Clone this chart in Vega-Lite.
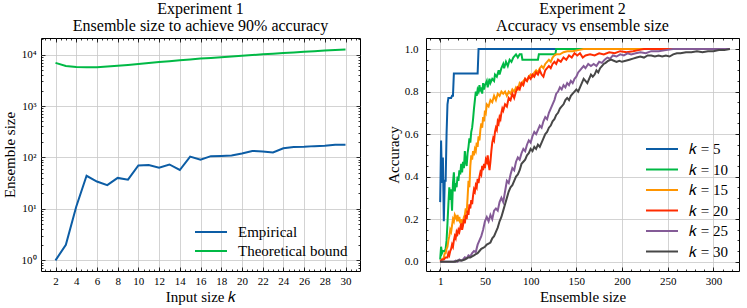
{
"$schema":"https://vega.github.io/schema/vega-lite/v6.json",
"background":"white",
"padding":{"left":1,"top":0,"right":2,"bottom":1},
"spacing":24,
"resolve":{"scale":{"color":"independent"},"legend":{"color":"independent"}},
"config":{
 "font":"Liberation Serif",
 "view":{"stroke":"black","strokeWidth":1},
 "axis":{"domain":false,"tickColor":"black","tickWidth":0.8,"labelFont":"Liberation Serif","labelFontSize":11,"labelColor":"black","titleFont":"Liberation Serif","titleFontSize":15,"titleFontWeight":"normal","titleColor":"black","gridColor":"#c8c8c8","gridWidth":0.8,"labelFlush":false,"labelOverlap":false},
 "legend":{"symbolType":"M-1,0L2.2,0","symbolSize":400,"symbolStrokeWidth":2,"labelFont":"Liberation Serif","labelFontSize":15,"labelColor":"black","labelOffset":22,"rowPadding":0,"padding":0,"title":null},
 "title":{"font":"Liberation Serif","fontSize":16,"fontWeight":"normal","color":"black","lineHeight":17,"offset":4}
},
"datasets":{
"exp1":[
{"k":2,"size":1,"series":"Empirical"},{"k":3,"size":2,"series":"Empirical"},{"k":4,"size":11,"series":"Empirical"},{"k":5,"size":44,"series":"Empirical"},{"k":6,"size":34,"series":"Empirical"},{"k":7,"size":29,"series":"Empirical"},{"k":8,"size":40,"series":"Empirical"},{"k":9,"size":37,"series":"Empirical"},{"k":10,"size":70,"series":"Empirical"},{"k":11,"size":71,"series":"Empirical"},{"k":12,"size":63,"series":"Empirical"},{"k":13,"size":73,"series":"Empirical"},{"k":14,"size":57,"series":"Empirical"},{"k":15,"size":104,"series":"Empirical"},{"k":16,"size":90,"series":"Empirical"},{"k":17,"size":106,"series":"Empirical"},{"k":18,"size":107,"series":"Empirical"},{"k":19,"size":109,"series":"Empirical"},{"k":20,"size":119,"series":"Empirical"},{"k":21,"size":134,"series":"Empirical"},{"k":22,"size":131,"series":"Empirical"},{"k":23,"size":125,"series":"Empirical"},{"k":24,"size":151,"series":"Empirical"},{"k":25,"size":160,"series":"Empirical"},{"k":26,"size":161,"series":"Empirical"},{"k":27,"size":166,"series":"Empirical"},{"k":28,"size":169,"series":"Empirical"},{"k":29,"size":176,"series":"Empirical"},{"k":30,"size":177,"series":"Empirical"},
{"k":2,"size":6890,"series":"Theoretical bound"},{"k":3,"size":6000,"series":"Theoretical bound"},{"k":4,"size":5750,"series":"Theoretical bound"},{"k":5,"size":5680,"series":"Theoretical bound"},{"k":6,"size":5700,"series":"Theoretical bound"},{"k":7,"size":5850,"series":"Theoretical bound"},{"k":8,"size":6050,"series":"Theoretical bound"},{"k":9,"size":6300,"series":"Theoretical bound"},{"k":10,"size":6550,"series":"Theoretical bound"},{"k":11,"size":6850,"series":"Theoretical bound"},{"k":12,"size":7150,"series":"Theoretical bound"},{"k":13,"size":7450,"series":"Theoretical bound"},{"k":14,"size":7750,"series":"Theoretical bound"},{"k":15,"size":8050,"series":"Theoretical bound"},{"k":16,"size":8350,"series":"Theoretical bound"},{"k":17,"size":8600,"series":"Theoretical bound"},{"k":18,"size":8900,"series":"Theoretical bound"},{"k":19,"size":9200,"series":"Theoretical bound"},{"k":20,"size":9500,"series":"Theoretical bound"},{"k":21,"size":9800,"series":"Theoretical bound"},{"k":22,"size":10100,"series":"Theoretical bound"},{"k":23,"size":10400,"series":"Theoretical bound"},{"k":24,"size":10700,"series":"Theoretical bound"},{"k":25,"size":11000,"series":"Theoretical bound"},{"k":26,"size":11350,"series":"Theoretical bound"},{"k":27,"size":11650,"series":"Theoretical bound"},{"k":28,"size":11950,"series":"Theoretical bound"},{"k":29,"size":12250,"series":"Theoretical bound"},{"k":30,"size":12600,"series":"Theoretical bound"}
],
"exp2":[
{"n":1,"acc":0.28,"s":"𝑘 = 5"},{"n":2,"acc":0.57,"s":"𝑘 = 5"},{"n":3,"acc":0.37,"s":"𝑘 = 5"},{"n":4,"acc":0.49,"s":"𝑘 = 5"},{"n":5,"acc":0.19,"s":"𝑘 = 5"},{"n":6,"acc":0.38,"s":"𝑘 = 5"},{"n":7,"acc":0.38,"s":"𝑘 = 5"},{"n":8,"acc":0.6,"s":"𝑘 = 5"},{"n":9,"acc":0.74,"s":"𝑘 = 5"},{"n":10,"acc":0.77,"s":"𝑘 = 5"},{"n":13,"acc":0.77,"s":"𝑘 = 5"},{"n":14,"acc":0.78,"s":"𝑘 = 5"},{"n":15,"acc":0.78,"s":"𝑘 = 5"},{"n":16,"acc":0.885,"s":"𝑘 = 5"},{"n":42,"acc":0.885,"s":"𝑘 = 5"},{"n":43,"acc":1.0,"s":"𝑘 = 5"},{"n":318,"acc":1.0,"s":"𝑘 = 5"},
{"n":1,"acc":0.01,"s":"𝑘 = 10"},{"n":2,"acc":0.07,"s":"𝑘 = 10"},{"n":3,"acc":0.04,"s":"𝑘 = 10"},{"n":4,"acc":0.05,"s":"𝑘 = 10"},{"n":6,"acc":0.05,"s":"𝑘 = 10"},{"n":7,"acc":0.06,"s":"𝑘 = 10"},{"n":8,"acc":0.1,"s":"𝑘 = 10"},{"n":9,"acc":0.18,"s":"𝑘 = 10"},{"n":10,"acc":0.27,"s":"𝑘 = 10"},{"n":11,"acc":0.35,"s":"𝑘 = 10"},{"n":12,"acc":0.29,"s":"𝑘 = 10"},{"n":13,"acc":0.34,"s":"𝑘 = 10"},{"n":14,"acc":0.24,"s":"𝑘 = 10"},{"n":15,"acc":0.37,"s":"𝑘 = 10"},{"n":16,"acc":0.42,"s":"𝑘 = 10"},{"n":17,"acc":0.33,"s":"𝑘 = 10"},{"n":18,"acc":0.37,"s":"𝑘 = 10"},{"n":19,"acc":0.35,"s":"𝑘 = 10"},{"n":20,"acc":0.4,"s":"𝑘 = 10"},{"n":21,"acc":0.38,"s":"𝑘 = 10"},{"n":22,"acc":0.43,"s":"𝑘 = 10"},{"n":23,"acc":0.41,"s":"𝑘 = 10"},{"n":24,"acc":0.46,"s":"𝑘 = 10"},{"n":25,"acc":0.42,"s":"𝑘 = 10"},{"n":26,"acc":0.47,"s":"𝑘 = 10"},{"n":27,"acc":0.44,"s":"𝑘 = 10"},{"n":28,"acc":0.52,"s":"𝑘 = 10"},{"n":29,"acc":0.47,"s":"𝑘 = 10"},{"n":30,"acc":0.45,"s":"𝑘 = 10"},{"n":31,"acc":0.51,"s":"𝑘 = 10"},{"n":32,"acc":0.54,"s":"𝑘 = 10"},{"n":33,"acc":0.58,"s":"𝑘 = 10"},{"n":34,"acc":0.56,"s":"𝑘 = 10"},{"n":35,"acc":0.61,"s":"𝑘 = 10"},{"n":36,"acc":0.63,"s":"𝑘 = 10"},{"n":37,"acc":0.67,"s":"𝑘 = 10"},{"n":38,"acc":0.72,"s":"𝑘 = 10"},{"n":39,"acc":0.76,"s":"𝑘 = 10"},{"n":40,"acc":0.8,"s":"𝑘 = 10"},{"n":41,"acc":0.78,"s":"𝑘 = 10"},{"n":42,"acc":0.81,"s":"𝑘 = 10"},{"n":43,"acc":0.8,"s":"𝑘 = 10"},{"n":44,"acc":0.83,"s":"𝑘 = 10"},{"n":45,"acc":0.8,"s":"𝑘 = 10"},{"n":46,"acc":0.82,"s":"𝑘 = 10"},{"n":47,"acc":0.79,"s":"𝑘 = 10"},{"n":48,"acc":0.84,"s":"𝑘 = 10"},{"n":49,"acc":0.81,"s":"𝑘 = 10"},{"n":50,"acc":0.83,"s":"𝑘 = 10"},{"n":52,"acc":0.85,"s":"𝑘 = 10"},{"n":53,"acc":0.82,"s":"𝑘 = 10"},{"n":55,"acc":0.86,"s":"𝑘 = 10"},{"n":56,"acc":0.84,"s":"𝑘 = 10"},{"n":58,"acc":0.86,"s":"𝑘 = 10"},{"n":60,"acc":0.85,"s":"𝑘 = 10"},{"n":61,"acc":0.88,"s":"𝑘 = 10"},{"n":63,"acc":0.87,"s":"𝑘 = 10"},{"n":65,"acc":0.9,"s":"𝑘 = 10"},{"n":66,"acc":0.88,"s":"𝑘 = 10"},{"n":68,"acc":0.91,"s":"𝑘 = 10"},{"n":70,"acc":0.93,"s":"𝑘 = 10"},{"n":71,"acc":0.91,"s":"𝑘 = 10"},{"n":73,"acc":0.94,"s":"𝑘 = 10"},{"n":75,"acc":0.92,"s":"𝑘 = 10"},{"n":77,"acc":0.95,"s":"𝑘 = 10"},{"n":79,"acc":0.94,"s":"𝑘 = 10"},{"n":81,"acc":0.96,"s":"𝑘 = 10"},{"n":83,"acc":0.97,"s":"𝑘 = 10"},{"n":84,"acc":0.975,"s":"𝑘 = 10"},{"n":86,"acc":0.96,"s":"𝑘 = 10"},{"n":88,"acc":0.975,"s":"𝑘 = 10"},{"n":90,"acc":0.975,"s":"𝑘 = 10"},{"n":91,"acc":0.95,"s":"𝑘 = 10"},{"n":108,"acc":0.95,"s":"𝑘 = 10"},{"n":109,"acc":0.975,"s":"𝑘 = 10"},{"n":127,"acc":0.975,"s":"𝑘 = 10"},{"n":128,"acc":1.0,"s":"𝑘 = 10"},{"n":318,"acc":1.0,"s":"𝑘 = 10"},
{"n":1,"acc":0.0,"s":"𝑘 = 15"},{"n":2,"acc":0.0,"s":"𝑘 = 15"},{"n":3,"acc":0.01,"s":"𝑘 = 15"},{"n":4,"acc":0.01,"s":"𝑘 = 15"},{"n":5,"acc":0.02,"s":"𝑘 = 15"},{"n":6,"acc":0.04,"s":"𝑘 = 15"},{"n":7,"acc":0.04,"s":"𝑘 = 15"},{"n":8,"acc":0.06,"s":"𝑘 = 15"},{"n":9,"acc":0.07,"s":"𝑘 = 15"},{"n":10,"acc":0.1,"s":"𝑘 = 15"},{"n":11,"acc":0.12,"s":"𝑘 = 15"},{"n":12,"acc":0.15,"s":"𝑘 = 15"},{"n":13,"acc":0.14,"s":"𝑘 = 15"},{"n":14,"acc":0.17,"s":"𝑘 = 15"},{"n":15,"acc":0.2,"s":"𝑘 = 15"},{"n":16,"acc":0.19,"s":"𝑘 = 15"},{"n":17,"acc":0.22,"s":"𝑘 = 15"},{"n":18,"acc":0.21,"s":"𝑘 = 15"},{"n":19,"acc":0.2,"s":"𝑘 = 15"},{"n":20,"acc":0.22,"s":"𝑘 = 15"},{"n":21,"acc":0.19,"s":"𝑘 = 15"},{"n":22,"acc":0.21,"s":"𝑘 = 15"},{"n":23,"acc":0.18,"s":"𝑘 = 15"},{"n":24,"acc":0.2,"s":"𝑘 = 15"},{"n":25,"acc":0.17,"s":"𝑘 = 15"},{"n":26,"acc":0.19,"s":"𝑘 = 15"},{"n":27,"acc":0.21,"s":"𝑘 = 15"},{"n":28,"acc":0.22,"s":"𝑘 = 15"},{"n":29,"acc":0.25,"s":"𝑘 = 15"},{"n":30,"acc":0.23,"s":"𝑘 = 15"},{"n":31,"acc":0.3,"s":"𝑘 = 15"},{"n":32,"acc":0.38,"s":"𝑘 = 15"},{"n":33,"acc":0.35,"s":"𝑘 = 15"},{"n":34,"acc":0.45,"s":"𝑘 = 15"},{"n":35,"acc":0.5,"s":"𝑘 = 15"},{"n":36,"acc":0.48,"s":"𝑘 = 15"},{"n":37,"acc":0.52,"s":"𝑘 = 15"},{"n":38,"acc":0.5,"s":"𝑘 = 15"},{"n":39,"acc":0.53,"s":"𝑘 = 15"},{"n":40,"acc":0.52,"s":"𝑘 = 15"},{"n":41,"acc":0.56,"s":"𝑘 = 15"},{"n":42,"acc":0.54,"s":"𝑘 = 15"},{"n":43,"acc":0.59,"s":"𝑘 = 15"},{"n":44,"acc":0.57,"s":"𝑘 = 15"},{"n":45,"acc":0.62,"s":"𝑘 = 15"},{"n":46,"acc":0.65,"s":"𝑘 = 15"},{"n":47,"acc":0.63,"s":"𝑘 = 15"},{"n":48,"acc":0.68,"s":"𝑘 = 15"},{"n":49,"acc":0.66,"s":"𝑘 = 15"},{"n":50,"acc":0.71,"s":"𝑘 = 15"},{"n":51,"acc":0.7,"s":"𝑘 = 15"},{"n":52,"acc":0.74,"s":"𝑘 = 15"},{"n":54,"acc":0.73,"s":"𝑘 = 15"},{"n":56,"acc":0.76,"s":"𝑘 = 15"},{"n":58,"acc":0.75,"s":"𝑘 = 15"},{"n":60,"acc":0.78,"s":"𝑘 = 15"},{"n":62,"acc":0.76,"s":"𝑘 = 15"},{"n":64,"acc":0.79,"s":"𝑘 = 15"},{"n":66,"acc":0.78,"s":"𝑘 = 15"},{"n":68,"acc":0.8,"s":"𝑘 = 15"},{"n":70,"acc":0.79,"s":"𝑘 = 15"},{"n":72,"acc":0.8,"s":"𝑘 = 15"},{"n":74,"acc":0.78,"s":"𝑘 = 15"},{"n":76,"acc":0.8,"s":"𝑘 = 15"},{"n":78,"acc":0.79,"s":"𝑘 = 15"},{"n":80,"acc":0.81,"s":"𝑘 = 15"},{"n":82,"acc":0.8,"s":"𝑘 = 15"},{"n":84,"acc":0.82,"s":"𝑘 = 15"},{"n":86,"acc":0.81,"s":"𝑘 = 15"},{"n":88,"acc":0.84,"s":"𝑘 = 15"},{"n":90,"acc":0.83,"s":"𝑘 = 15"},{"n":92,"acc":0.85,"s":"𝑘 = 15"},{"n":94,"acc":0.86,"s":"𝑘 = 15"},{"n":96,"acc":0.85,"s":"𝑘 = 15"},{"n":98,"acc":0.87,"s":"𝑘 = 15"},{"n":100,"acc":0.88,"s":"𝑘 = 15"},{"n":102,"acc":0.87,"s":"𝑘 = 15"},{"n":104,"acc":0.89,"s":"𝑘 = 15"},{"n":106,"acc":0.9,"s":"𝑘 = 15"},{"n":108,"acc":0.89,"s":"𝑘 = 15"},{"n":110,"acc":0.91,"s":"𝑘 = 15"},{"n":112,"acc":0.92,"s":"𝑘 = 15"},{"n":114,"acc":0.91,"s":"𝑘 = 15"},{"n":116,"acc":0.93,"s":"𝑘 = 15"},{"n":118,"acc":0.94,"s":"𝑘 = 15"},{"n":120,"acc":0.95,"s":"𝑘 = 15"},{"n":122,"acc":0.94,"s":"𝑘 = 15"},{"n":124,"acc":0.96,"s":"𝑘 = 15"},{"n":126,"acc":0.97,"s":"𝑘 = 15"},{"n":128,"acc":0.975,"s":"𝑘 = 15"},{"n":132,"acc":0.975,"s":"𝑘 = 15"},{"n":136,"acc":0.985,"s":"𝑘 = 15"},{"n":140,"acc":0.99,"s":"𝑘 = 15"},{"n":146,"acc":0.99,"s":"𝑘 = 15"},{"n":152,"acc":0.995,"s":"𝑘 = 15"},{"n":158,"acc":1.0,"s":"𝑘 = 15"},{"n":318,"acc":1.0,"s":"𝑘 = 15"},
{"n":1,"acc":0.0,"s":"𝑘 = 20"},{"n":3,"acc":0.01,"s":"𝑘 = 20"},{"n":5,"acc":0.01,"s":"𝑘 = 20"},{"n":7,"acc":0.02,"s":"𝑘 = 20"},{"n":9,"acc":0.02,"s":"𝑘 = 20"},{"n":10,"acc":0.04,"s":"𝑘 = 20"},{"n":11,"acc":0.03,"s":"𝑘 = 20"},{"n":12,"acc":0.05,"s":"𝑘 = 20"},{"n":13,"acc":0.06,"s":"𝑘 = 20"},{"n":14,"acc":0.08,"s":"𝑘 = 20"},{"n":15,"acc":0.07,"s":"𝑘 = 20"},{"n":16,"acc":0.1,"s":"𝑘 = 20"},{"n":17,"acc":0.12,"s":"𝑘 = 20"},{"n":18,"acc":0.11,"s":"𝑘 = 20"},{"n":19,"acc":0.14,"s":"𝑘 = 20"},{"n":20,"acc":0.13,"s":"𝑘 = 20"},{"n":21,"acc":0.15,"s":"𝑘 = 20"},{"n":22,"acc":0.14,"s":"𝑘 = 20"},{"n":23,"acc":0.16,"s":"𝑘 = 20"},{"n":24,"acc":0.18,"s":"𝑘 = 20"},{"n":25,"acc":0.15,"s":"𝑘 = 20"},{"n":26,"acc":0.17,"s":"𝑘 = 20"},{"n":27,"acc":0.2,"s":"𝑘 = 20"},{"n":28,"acc":0.18,"s":"𝑘 = 20"},{"n":29,"acc":0.22,"s":"𝑘 = 20"},{"n":30,"acc":0.2,"s":"𝑘 = 20"},{"n":31,"acc":0.24,"s":"𝑘 = 20"},{"n":32,"acc":0.22,"s":"𝑘 = 20"},{"n":33,"acc":0.27,"s":"𝑘 = 20"},{"n":34,"acc":0.25,"s":"𝑘 = 20"},{"n":35,"acc":0.29,"s":"𝑘 = 20"},{"n":36,"acc":0.27,"s":"𝑘 = 20"},{"n":37,"acc":0.31,"s":"𝑘 = 20"},{"n":38,"acc":0.34,"s":"𝑘 = 20"},{"n":39,"acc":0.33,"s":"𝑘 = 20"},{"n":40,"acc":0.36,"s":"𝑘 = 20"},{"n":41,"acc":0.35,"s":"𝑘 = 20"},{"n":42,"acc":0.39,"s":"𝑘 = 20"},{"n":43,"acc":0.37,"s":"𝑘 = 20"},{"n":44,"acc":0.4,"s":"𝑘 = 20"},{"n":45,"acc":0.42,"s":"𝑘 = 20"},{"n":46,"acc":0.41,"s":"𝑘 = 20"},{"n":47,"acc":0.45,"s":"𝑘 = 20"},{"n":48,"acc":0.43,"s":"𝑘 = 20"},{"n":49,"acc":0.46,"s":"𝑘 = 20"},{"n":50,"acc":0.44,"s":"𝑘 = 20"},{"n":51,"acc":0.48,"s":"𝑘 = 20"},{"n":52,"acc":0.47,"s":"𝑘 = 20"},{"n":53,"acc":0.5,"s":"𝑘 = 20"},{"n":54,"acc":0.46,"s":"𝑘 = 20"},{"n":55,"acc":0.43,"s":"𝑘 = 20"},{"n":56,"acc":0.47,"s":"𝑘 = 20"},{"n":57,"acc":0.52,"s":"𝑘 = 20"},{"n":58,"acc":0.56,"s":"𝑘 = 20"},{"n":59,"acc":0.58,"s":"𝑘 = 20"},{"n":60,"acc":0.57,"s":"𝑘 = 20"},{"n":61,"acc":0.61,"s":"𝑘 = 20"},{"n":62,"acc":0.63,"s":"𝑘 = 20"},{"n":63,"acc":0.62,"s":"𝑘 = 20"},{"n":64,"acc":0.66,"s":"𝑘 = 20"},{"n":65,"acc":0.65,"s":"𝑘 = 20"},{"n":66,"acc":0.68,"s":"𝑘 = 20"},{"n":67,"acc":0.67,"s":"𝑘 = 20"},{"n":68,"acc":0.7,"s":"𝑘 = 20"},{"n":69,"acc":0.72,"s":"𝑘 = 20"},{"n":70,"acc":0.71,"s":"𝑘 = 20"},{"n":72,"acc":0.74,"s":"𝑘 = 20"},{"n":74,"acc":0.73,"s":"𝑘 = 20"},{"n":76,"acc":0.77,"s":"𝑘 = 20"},{"n":78,"acc":0.76,"s":"𝑘 = 20"},{"n":80,"acc":0.79,"s":"𝑘 = 20"},{"n":82,"acc":0.77,"s":"𝑘 = 20"},{"n":84,"acc":0.8,"s":"𝑘 = 20"},{"n":86,"acc":0.82,"s":"𝑘 = 20"},{"n":88,"acc":0.81,"s":"𝑘 = 20"},{"n":90,"acc":0.84,"s":"𝑘 = 20"},{"n":92,"acc":0.83,"s":"𝑘 = 20"},{"n":94,"acc":0.86,"s":"𝑘 = 20"},{"n":96,"acc":0.85,"s":"𝑘 = 20"},{"n":98,"acc":0.87,"s":"𝑘 = 20"},{"n":100,"acc":0.86,"s":"𝑘 = 20"},{"n":102,"acc":0.88,"s":"𝑘 = 20"},{"n":104,"acc":0.87,"s":"𝑘 = 20"},{"n":106,"acc":0.89,"s":"𝑘 = 20"},{"n":108,"acc":0.88,"s":"𝑘 = 20"},{"n":110,"acc":0.9,"s":"𝑘 = 20"},{"n":112,"acc":0.88,"s":"𝑘 = 20"},{"n":114,"acc":0.87,"s":"𝑘 = 20"},{"n":116,"acc":0.9,"s":"𝑘 = 20"},{"n":118,"acc":0.91,"s":"𝑘 = 20"},{"n":120,"acc":0.92,"s":"𝑘 = 20"},{"n":122,"acc":0.91,"s":"𝑘 = 20"},{"n":124,"acc":0.93,"s":"𝑘 = 20"},{"n":126,"acc":0.94,"s":"𝑘 = 20"},{"n":128,"acc":0.93,"s":"𝑘 = 20"},{"n":130,"acc":0.95,"s":"𝑘 = 20"},{"n":133,"acc":0.94,"s":"𝑘 = 20"},{"n":136,"acc":0.96,"s":"𝑘 = 20"},{"n":139,"acc":0.95,"s":"𝑘 = 20"},{"n":142,"acc":0.97,"s":"𝑘 = 20"},{"n":145,"acc":0.96,"s":"𝑘 = 20"},{"n":148,"acc":0.98,"s":"𝑘 = 20"},{"n":151,"acc":0.97,"s":"𝑘 = 20"},{"n":154,"acc":0.98,"s":"𝑘 = 20"},{"n":157,"acc":0.96,"s":"𝑘 = 20"},{"n":160,"acc":0.97,"s":"𝑘 = 20"},{"n":165,"acc":0.975,"s":"𝑘 = 20"},{"n":170,"acc":0.97,"s":"𝑘 = 20"},{"n":175,"acc":0.98,"s":"𝑘 = 20"},{"n":180,"acc":0.975,"s":"𝑘 = 20"},{"n":186,"acc":0.985,"s":"𝑘 = 20"},{"n":192,"acc":0.98,"s":"𝑘 = 20"},{"n":198,"acc":0.99,"s":"𝑘 = 20"},{"n":205,"acc":0.985,"s":"𝑘 = 20"},{"n":212,"acc":0.99,"s":"𝑘 = 20"},{"n":218,"acc":0.995,"s":"𝑘 = 20"},{"n":224,"acc":1.0,"s":"𝑘 = 20"},{"n":318,"acc":1.0,"s":"𝑘 = 20"},
{"n":1,"acc":0.0,"s":"𝑘 = 25"},{"n":16,"acc":0.0,"s":"𝑘 = 25"},{"n":18,"acc":0.005,"s":"𝑘 = 25"},{"n":20,"acc":0.0,"s":"𝑘 = 25"},{"n":22,"acc":0.01,"s":"𝑘 = 25"},{"n":24,"acc":0.005,"s":"𝑘 = 25"},{"n":26,"acc":0.01,"s":"𝑘 = 25"},{"n":28,"acc":0.02,"s":"𝑘 = 25"},{"n":30,"acc":0.015,"s":"𝑘 = 25"},{"n":32,"acc":0.03,"s":"𝑘 = 25"},{"n":34,"acc":0.025,"s":"𝑘 = 25"},{"n":36,"acc":0.04,"s":"𝑘 = 25"},{"n":38,"acc":0.05,"s":"𝑘 = 25"},{"n":40,"acc":0.045,"s":"𝑘 = 25"},{"n":42,"acc":0.08,"s":"𝑘 = 25"},{"n":44,"acc":0.1,"s":"𝑘 = 25"},{"n":46,"acc":0.12,"s":"𝑘 = 25"},{"n":48,"acc":0.15,"s":"𝑘 = 25"},{"n":50,"acc":0.19,"s":"𝑘 = 25"},{"n":52,"acc":0.21,"s":"𝑘 = 25"},{"n":54,"acc":0.19,"s":"𝑘 = 25"},{"n":56,"acc":0.22,"s":"𝑘 = 25"},{"n":58,"acc":0.2,"s":"𝑘 = 25"},{"n":60,"acc":0.24,"s":"𝑘 = 25"},{"n":62,"acc":0.25,"s":"𝑘 = 25"},{"n":64,"acc":0.24,"s":"𝑘 = 25"},{"n":66,"acc":0.28,"s":"𝑘 = 25"},{"n":68,"acc":0.3,"s":"𝑘 = 25"},{"n":70,"acc":0.28,"s":"𝑘 = 25"},{"n":72,"acc":0.33,"s":"𝑘 = 25"},{"n":74,"acc":0.38,"s":"𝑘 = 25"},{"n":76,"acc":0.37,"s":"𝑘 = 25"},{"n":78,"acc":0.41,"s":"𝑘 = 25"},{"n":80,"acc":0.44,"s":"𝑘 = 25"},{"n":82,"acc":0.43,"s":"𝑘 = 25"},{"n":84,"acc":0.47,"s":"𝑘 = 25"},{"n":86,"acc":0.49,"s":"𝑘 = 25"},{"n":88,"acc":0.48,"s":"𝑘 = 25"},{"n":90,"acc":0.51,"s":"𝑘 = 25"},{"n":92,"acc":0.53,"s":"𝑘 = 25"},{"n":94,"acc":0.52,"s":"𝑘 = 25"},{"n":96,"acc":0.55,"s":"𝑘 = 25"},{"n":98,"acc":0.57,"s":"𝑘 = 25"},{"n":100,"acc":0.56,"s":"𝑘 = 25"},{"n":102,"acc":0.59,"s":"𝑘 = 25"},{"n":104,"acc":0.61,"s":"𝑘 = 25"},{"n":106,"acc":0.6,"s":"𝑘 = 25"},{"n":108,"acc":0.62,"s":"𝑘 = 25"},{"n":110,"acc":0.64,"s":"𝑘 = 25"},{"n":112,"acc":0.63,"s":"𝑘 = 25"},{"n":114,"acc":0.66,"s":"𝑘 = 25"},{"n":116,"acc":0.68,"s":"𝑘 = 25"},{"n":118,"acc":0.67,"s":"𝑘 = 25"},{"n":120,"acc":0.7,"s":"𝑘 = 25"},{"n":122,"acc":0.72,"s":"𝑘 = 25"},{"n":124,"acc":0.74,"s":"𝑘 = 25"},{"n":126,"acc":0.76,"s":"𝑘 = 25"},{"n":128,"acc":0.79,"s":"𝑘 = 25"},{"n":130,"acc":0.8,"s":"𝑘 = 25"},{"n":132,"acc":0.82,"s":"𝑘 = 25"},{"n":134,"acc":0.81,"s":"𝑘 = 25"},{"n":136,"acc":0.83,"s":"𝑘 = 25"},{"n":138,"acc":0.82,"s":"𝑘 = 25"},{"n":140,"acc":0.84,"s":"𝑘 = 25"},{"n":142,"acc":0.83,"s":"𝑘 = 25"},{"n":144,"acc":0.85,"s":"𝑘 = 25"},{"n":146,"acc":0.84,"s":"𝑘 = 25"},{"n":148,"acc":0.86,"s":"𝑘 = 25"},{"n":150,"acc":0.87,"s":"𝑘 = 25"},{"n":152,"acc":0.89,"s":"𝑘 = 25"},{"n":154,"acc":0.9,"s":"𝑘 = 25"},{"n":156,"acc":0.91,"s":"𝑘 = 25"},{"n":158,"acc":0.92,"s":"𝑘 = 25"},{"n":160,"acc":0.91,"s":"𝑘 = 25"},{"n":163,"acc":0.93,"s":"𝑘 = 25"},{"n":166,"acc":0.92,"s":"𝑘 = 25"},{"n":169,"acc":0.93,"s":"𝑘 = 25"},{"n":172,"acc":0.92,"s":"𝑘 = 25"},{"n":175,"acc":0.94,"s":"𝑘 = 25"},{"n":178,"acc":0.935,"s":"𝑘 = 25"},{"n":181,"acc":0.95,"s":"𝑘 = 25"},{"n":184,"acc":0.96,"s":"𝑘 = 25"},{"n":187,"acc":0.955,"s":"𝑘 = 25"},{"n":190,"acc":0.97,"s":"𝑘 = 25"},{"n":194,"acc":0.965,"s":"𝑘 = 25"},{"n":198,"acc":0.975,"s":"𝑘 = 25"},{"n":202,"acc":0.97,"s":"𝑘 = 25"},{"n":206,"acc":0.98,"s":"𝑘 = 25"},{"n":210,"acc":0.975,"s":"𝑘 = 25"},{"n":215,"acc":0.98,"s":"𝑘 = 25"},{"n":220,"acc":0.985,"s":"𝑘 = 25"},{"n":226,"acc":0.98,"s":"𝑘 = 25"},{"n":232,"acc":0.99,"s":"𝑘 = 25"},{"n":240,"acc":0.99,"s":"𝑘 = 25"},{"n":248,"acc":0.995,"s":"𝑘 = 25"},{"n":256,"acc":1.0,"s":"𝑘 = 25"},{"n":318,"acc":1.0,"s":"𝑘 = 25"},
{"n":1,"acc":0.0,"s":"𝑘 = 30"},{"n":18,"acc":0.0,"s":"𝑘 = 30"},{"n":20,"acc":0.005,"s":"𝑘 = 30"},{"n":25,"acc":0.005,"s":"𝑘 = 30"},{"n":28,"acc":0.01,"s":"𝑘 = 30"},{"n":30,"acc":0.015,"s":"𝑘 = 30"},{"n":32,"acc":0.02,"s":"𝑘 = 30"},{"n":34,"acc":0.02,"s":"𝑘 = 30"},{"n":36,"acc":0.025,"s":"𝑘 = 30"},{"n":38,"acc":0.03,"s":"𝑘 = 30"},{"n":40,"acc":0.035,"s":"𝑘 = 30"},{"n":42,"acc":0.04,"s":"𝑘 = 30"},{"n":44,"acc":0.05,"s":"𝑘 = 30"},{"n":46,"acc":0.06,"s":"𝑘 = 30"},{"n":48,"acc":0.065,"s":"𝑘 = 30"},{"n":50,"acc":0.07,"s":"𝑘 = 30"},{"n":52,"acc":0.08,"s":"𝑘 = 30"},{"n":54,"acc":0.085,"s":"𝑘 = 30"},{"n":56,"acc":0.09,"s":"𝑘 = 30"},{"n":58,"acc":0.11,"s":"𝑘 = 30"},{"n":60,"acc":0.12,"s":"𝑘 = 30"},{"n":62,"acc":0.14,"s":"𝑘 = 30"},{"n":64,"acc":0.16,"s":"𝑘 = 30"},{"n":66,"acc":0.19,"s":"𝑘 = 30"},{"n":68,"acc":0.21,"s":"𝑘 = 30"},{"n":70,"acc":0.24,"s":"𝑘 = 30"},{"n":72,"acc":0.27,"s":"𝑘 = 30"},{"n":74,"acc":0.3,"s":"𝑘 = 30"},{"n":76,"acc":0.33,"s":"𝑘 = 30"},{"n":78,"acc":0.35,"s":"𝑘 = 30"},{"n":80,"acc":0.36,"s":"𝑘 = 30"},{"n":82,"acc":0.38,"s":"𝑘 = 30"},{"n":84,"acc":0.4,"s":"𝑘 = 30"},{"n":86,"acc":0.41,"s":"𝑘 = 30"},{"n":88,"acc":0.43,"s":"𝑘 = 30"},{"n":90,"acc":0.46,"s":"𝑘 = 30"},{"n":92,"acc":0.47,"s":"𝑘 = 30"},{"n":94,"acc":0.48,"s":"𝑘 = 30"},{"n":96,"acc":0.5,"s":"𝑘 = 30"},{"n":98,"acc":0.51,"s":"𝑘 = 30"},{"n":100,"acc":0.53,"s":"𝑘 = 30"},{"n":102,"acc":0.52,"s":"𝑘 = 30"},{"n":104,"acc":0.54,"s":"𝑘 = 30"},{"n":106,"acc":0.53,"s":"𝑘 = 30"},{"n":108,"acc":0.55,"s":"𝑘 = 30"},{"n":110,"acc":0.54,"s":"𝑘 = 30"},{"n":112,"acc":0.56,"s":"𝑘 = 30"},{"n":114,"acc":0.58,"s":"𝑘 = 30"},{"n":116,"acc":0.6,"s":"𝑘 = 30"},{"n":118,"acc":0.61,"s":"𝑘 = 30"},{"n":120,"acc":0.63,"s":"𝑘 = 30"},{"n":122,"acc":0.64,"s":"𝑘 = 30"},{"n":124,"acc":0.66,"s":"𝑘 = 30"},{"n":126,"acc":0.67,"s":"𝑘 = 30"},{"n":128,"acc":0.69,"s":"𝑘 = 30"},{"n":130,"acc":0.7,"s":"𝑘 = 30"},{"n":132,"acc":0.72,"s":"𝑘 = 30"},{"n":134,"acc":0.73,"s":"𝑘 = 30"},{"n":136,"acc":0.74,"s":"𝑘 = 30"},{"n":138,"acc":0.76,"s":"𝑘 = 30"},{"n":140,"acc":0.77,"s":"𝑘 = 30"},{"n":142,"acc":0.76,"s":"𝑘 = 30"},{"n":144,"acc":0.78,"s":"𝑘 = 30"},{"n":146,"acc":0.79,"s":"𝑘 = 30"},{"n":148,"acc":0.8,"s":"𝑘 = 30"},{"n":150,"acc":0.81,"s":"𝑘 = 30"},{"n":152,"acc":0.8,"s":"𝑘 = 30"},{"n":154,"acc":0.82,"s":"𝑘 = 30"},{"n":156,"acc":0.84,"s":"𝑘 = 30"},{"n":158,"acc":0.86,"s":"𝑘 = 30"},{"n":160,"acc":0.85,"s":"𝑘 = 30"},{"n":162,"acc":0.84,"s":"𝑘 = 30"},{"n":164,"acc":0.86,"s":"𝑘 = 30"},{"n":166,"acc":0.88,"s":"𝑘 = 30"},{"n":168,"acc":0.87,"s":"𝑘 = 30"},{"n":170,"acc":0.88,"s":"𝑘 = 30"},{"n":172,"acc":0.9,"s":"𝑘 = 30"},{"n":174,"acc":0.89,"s":"𝑘 = 30"},{"n":176,"acc":0.91,"s":"𝑘 = 30"},{"n":178,"acc":0.92,"s":"𝑘 = 30"},{"n":180,"acc":0.93,"s":"𝑘 = 30"},{"n":182,"acc":0.935,"s":"𝑘 = 30"},{"n":185,"acc":0.945,"s":"𝑘 = 30"},{"n":188,"acc":0.95,"s":"𝑘 = 30"},{"n":191,"acc":0.945,"s":"𝑘 = 30"},{"n":194,"acc":0.94,"s":"𝑘 = 30"},{"n":197,"acc":0.945,"s":"𝑘 = 30"},{"n":200,"acc":0.94,"s":"𝑘 = 30"},{"n":204,"acc":0.945,"s":"𝑘 = 30"},{"n":208,"acc":0.95,"s":"𝑘 = 30"},{"n":212,"acc":0.955,"s":"𝑘 = 30"},{"n":216,"acc":0.96,"s":"𝑘 = 30"},{"n":220,"acc":0.965,"s":"𝑘 = 30"},{"n":224,"acc":0.96,"s":"𝑘 = 30"},{"n":228,"acc":0.97,"s":"𝑘 = 30"},{"n":232,"acc":0.97,"s":"𝑘 = 30"},{"n":236,"acc":0.965,"s":"𝑘 = 30"},{"n":240,"acc":0.97,"s":"𝑘 = 30"},{"n":244,"acc":0.965,"s":"𝑘 = 30"},{"n":248,"acc":0.97,"s":"𝑘 = 30"},{"n":252,"acc":0.965,"s":"𝑘 = 30"},{"n":256,"acc":0.975,"s":"𝑘 = 30"},{"n":260,"acc":0.98,"s":"𝑘 = 30"},{"n":264,"acc":0.98,"s":"𝑘 = 30"},{"n":270,"acc":0.985,"s":"𝑘 = 30"},{"n":276,"acc":0.985,"s":"𝑘 = 30"},{"n":282,"acc":0.99,"s":"𝑘 = 30"},{"n":288,"acc":0.985,"s":"𝑘 = 30"},{"n":294,"acc":0.99,"s":"𝑘 = 30"},{"n":300,"acc":0.99,"s":"𝑘 = 30"},{"n":306,"acc":0.995,"s":"𝑘 = 30"},{"n":312,"acc":0.995,"s":"𝑘 = 30"},{"n":318,"acc":1.0,"s":"𝑘 = 30"}
]
},
"hconcat":[
{
 "width":319,"height":233,
 "title":{"text":["Experiment 1","Ensemble size to achieve 90% accuracy"]},
 "data":{"name":"exp1"},
 "layer":[
  {"mark":{"type":"line","strokeWidth":2},
   "encoding":{
    "x":{"field":"k","type":"quantitative","scale":{"domain":[0.6,31.4],"nice":false,"zero":false},
         "axis":{"orient":"bottom","values":[2,4,6,8,10,12,14,16,18,20,22,24,26,28,30],"grid":true,"tickSize":-4,"labelPadding":8,"title":"Input size 𝑘","titlePadding":3}},
    "y":{"field":"size","type":"quantitative","scale":{"type":"log","domain":[0.62,21000],"nice":false},
         "axis":{"orient":"left","values":[1,10,100,1000,10000],"grid":true,"tickSize":-4,"labelPadding":9,"labelExpr":"datum.value < 5 ? '10⁰' : datum.value < 50 ? '10¹' : datum.value < 500 ? '10²' : datum.value < 5000 ? '10³' : '10⁴'","title":"Ensemble size","titlePadding":4}},
    "color":{"field":"series","type":"nominal","scale":{"domain":["Empirical","Theoretical bound"],"range":["#0C5DA5","#00B945"]},"legend":{"orient":"bottom-right","offset":12}}
   }},
  {"mark":{"type":"point","opacity":0},
   "encoding":{
    "x":{"field":"k","type":"quantitative","axis":{"orient":"bottom","tickCount":62,"labels":false,"grid":false,"tickSize":-2,"title":null}},
    "y":{"field":"size","type":"quantitative","axis":{"orient":"left","values":[0.7,0.8,0.9,2,3,4,5,6,7,8,9,20,30,40,50,60,70,80,90,200,300,400,500,600,700,800,900,2000,3000,4000,5000,6000,7000,8000,9000,20000],"labels":false,"grid":false,"tickSize":-2,"title":null}}
   }},
  {"mark":{"type":"point","opacity":0},
   "encoding":{
    "x":{"field":"k","type":"quantitative","axis":{"orient":"top","values":[2,4,6,8,10,12,14,16,18,20,22,24,26,28,30],"labels":false,"grid":false,"tickSize":-4,"title":null}},
    "y":{"field":"size","type":"quantitative","axis":{"orient":"right","values":[1,10,100,1000,10000],"labels":false,"grid":false,"tickSize":-4,"title":null}}
   }},
  {"mark":{"type":"point","opacity":0},
   "encoding":{
    "x":{"field":"k","type":"quantitative","axis":{"orient":"top","tickCount":62,"labels":false,"grid":false,"tickSize":-2,"title":null}},
    "y":{"field":"size","type":"quantitative","axis":{"orient":"right","values":[0.7,0.8,0.9,2,3,4,5,6,7,8,9,20,30,40,50,60,70,80,90,200,300,400,500,600,700,800,900,2000,3000,4000,5000,6000,7000,8000,9000,20000],"labels":false,"grid":false,"tickSize":-2,"title":null}}
   }}
 ],
 "resolve":{"axis":{"x":"independent","y":"independent"}}
},
{
 "width":313,"height":233,
 "title":{"text":["Experiment 2","Accuracy vs ensemble size"]},
 "data":{"name":"exp2"},
 "layer":[
  {"mark":{"type":"line","strokeWidth":2},
   "encoding":{
    "x":{"field":"n","type":"quantitative","scale":{"domain":[-14.5,328],"nice":false,"zero":false},
         "axis":{"orient":"bottom","values":[1,50,100,150,200,250,300],"grid":true,"tickSize":-4,"labelPadding":8,"title":"Ensemble size","titlePadding":3}},
    "y":{"field":"acc","type":"quantitative","scale":{"domain":[-0.044,1.052],"nice":false,"zero":false},
         "axis":{"orient":"left","values":[0,0.2,0.4,0.6,0.8,1.0],"format":".1f","grid":true,"tickSize":-4,"labelPadding":12,"title":"Accuracy","titlePadding":3}},
    "color":{"field":"s","type":"nominal","scale":{"domain":["𝑘 = 5","𝑘 = 10","𝑘 = 15","𝑘 = 20","𝑘 = 25","𝑘 = 30"],"range":["#0C5DA5","#00B945","#FF9500","#FF2C00","#845B97","#474747"]},"legend":{"orient":"bottom-right","offset":11,"rowPadding":1.5}}
   }},
  {"mark":{"type":"point","opacity":0},
   "encoding":{
    "x":{"field":"n","type":"quantitative","axis":{"orient":"bottom","tickCount":34,"labels":false,"grid":false,"tickSize":-2,"title":null}},
    "y":{"field":"acc","type":"quantitative","axis":{"orient":"left","tickCount":22,"labels":false,"grid":false,"tickSize":-2,"title":null}}
   }},
  {"mark":{"type":"point","opacity":0},
   "encoding":{
    "x":{"field":"n","type":"quantitative","axis":{"orient":"top","values":[1,50,100,150,200,250,300],"labels":false,"grid":false,"tickSize":-4,"title":null}},
    "y":{"field":"acc","type":"quantitative","axis":{"orient":"right","values":[0,0.2,0.4,0.6,0.8,1.0],"labels":false,"grid":false,"tickSize":-4,"title":null}}
   }},
  {"mark":{"type":"point","opacity":0},
   "encoding":{
    "x":{"field":"n","type":"quantitative","axis":{"orient":"top","tickCount":34,"labels":false,"grid":false,"tickSize":-2,"title":null}},
    "y":{"field":"acc","type":"quantitative","axis":{"orient":"right","tickCount":22,"labels":false,"grid":false,"tickSize":-2,"title":null}}
   }}
 ],
 "resolve":{"axis":{"x":"independent","y":"independent"}}
}
]
}
